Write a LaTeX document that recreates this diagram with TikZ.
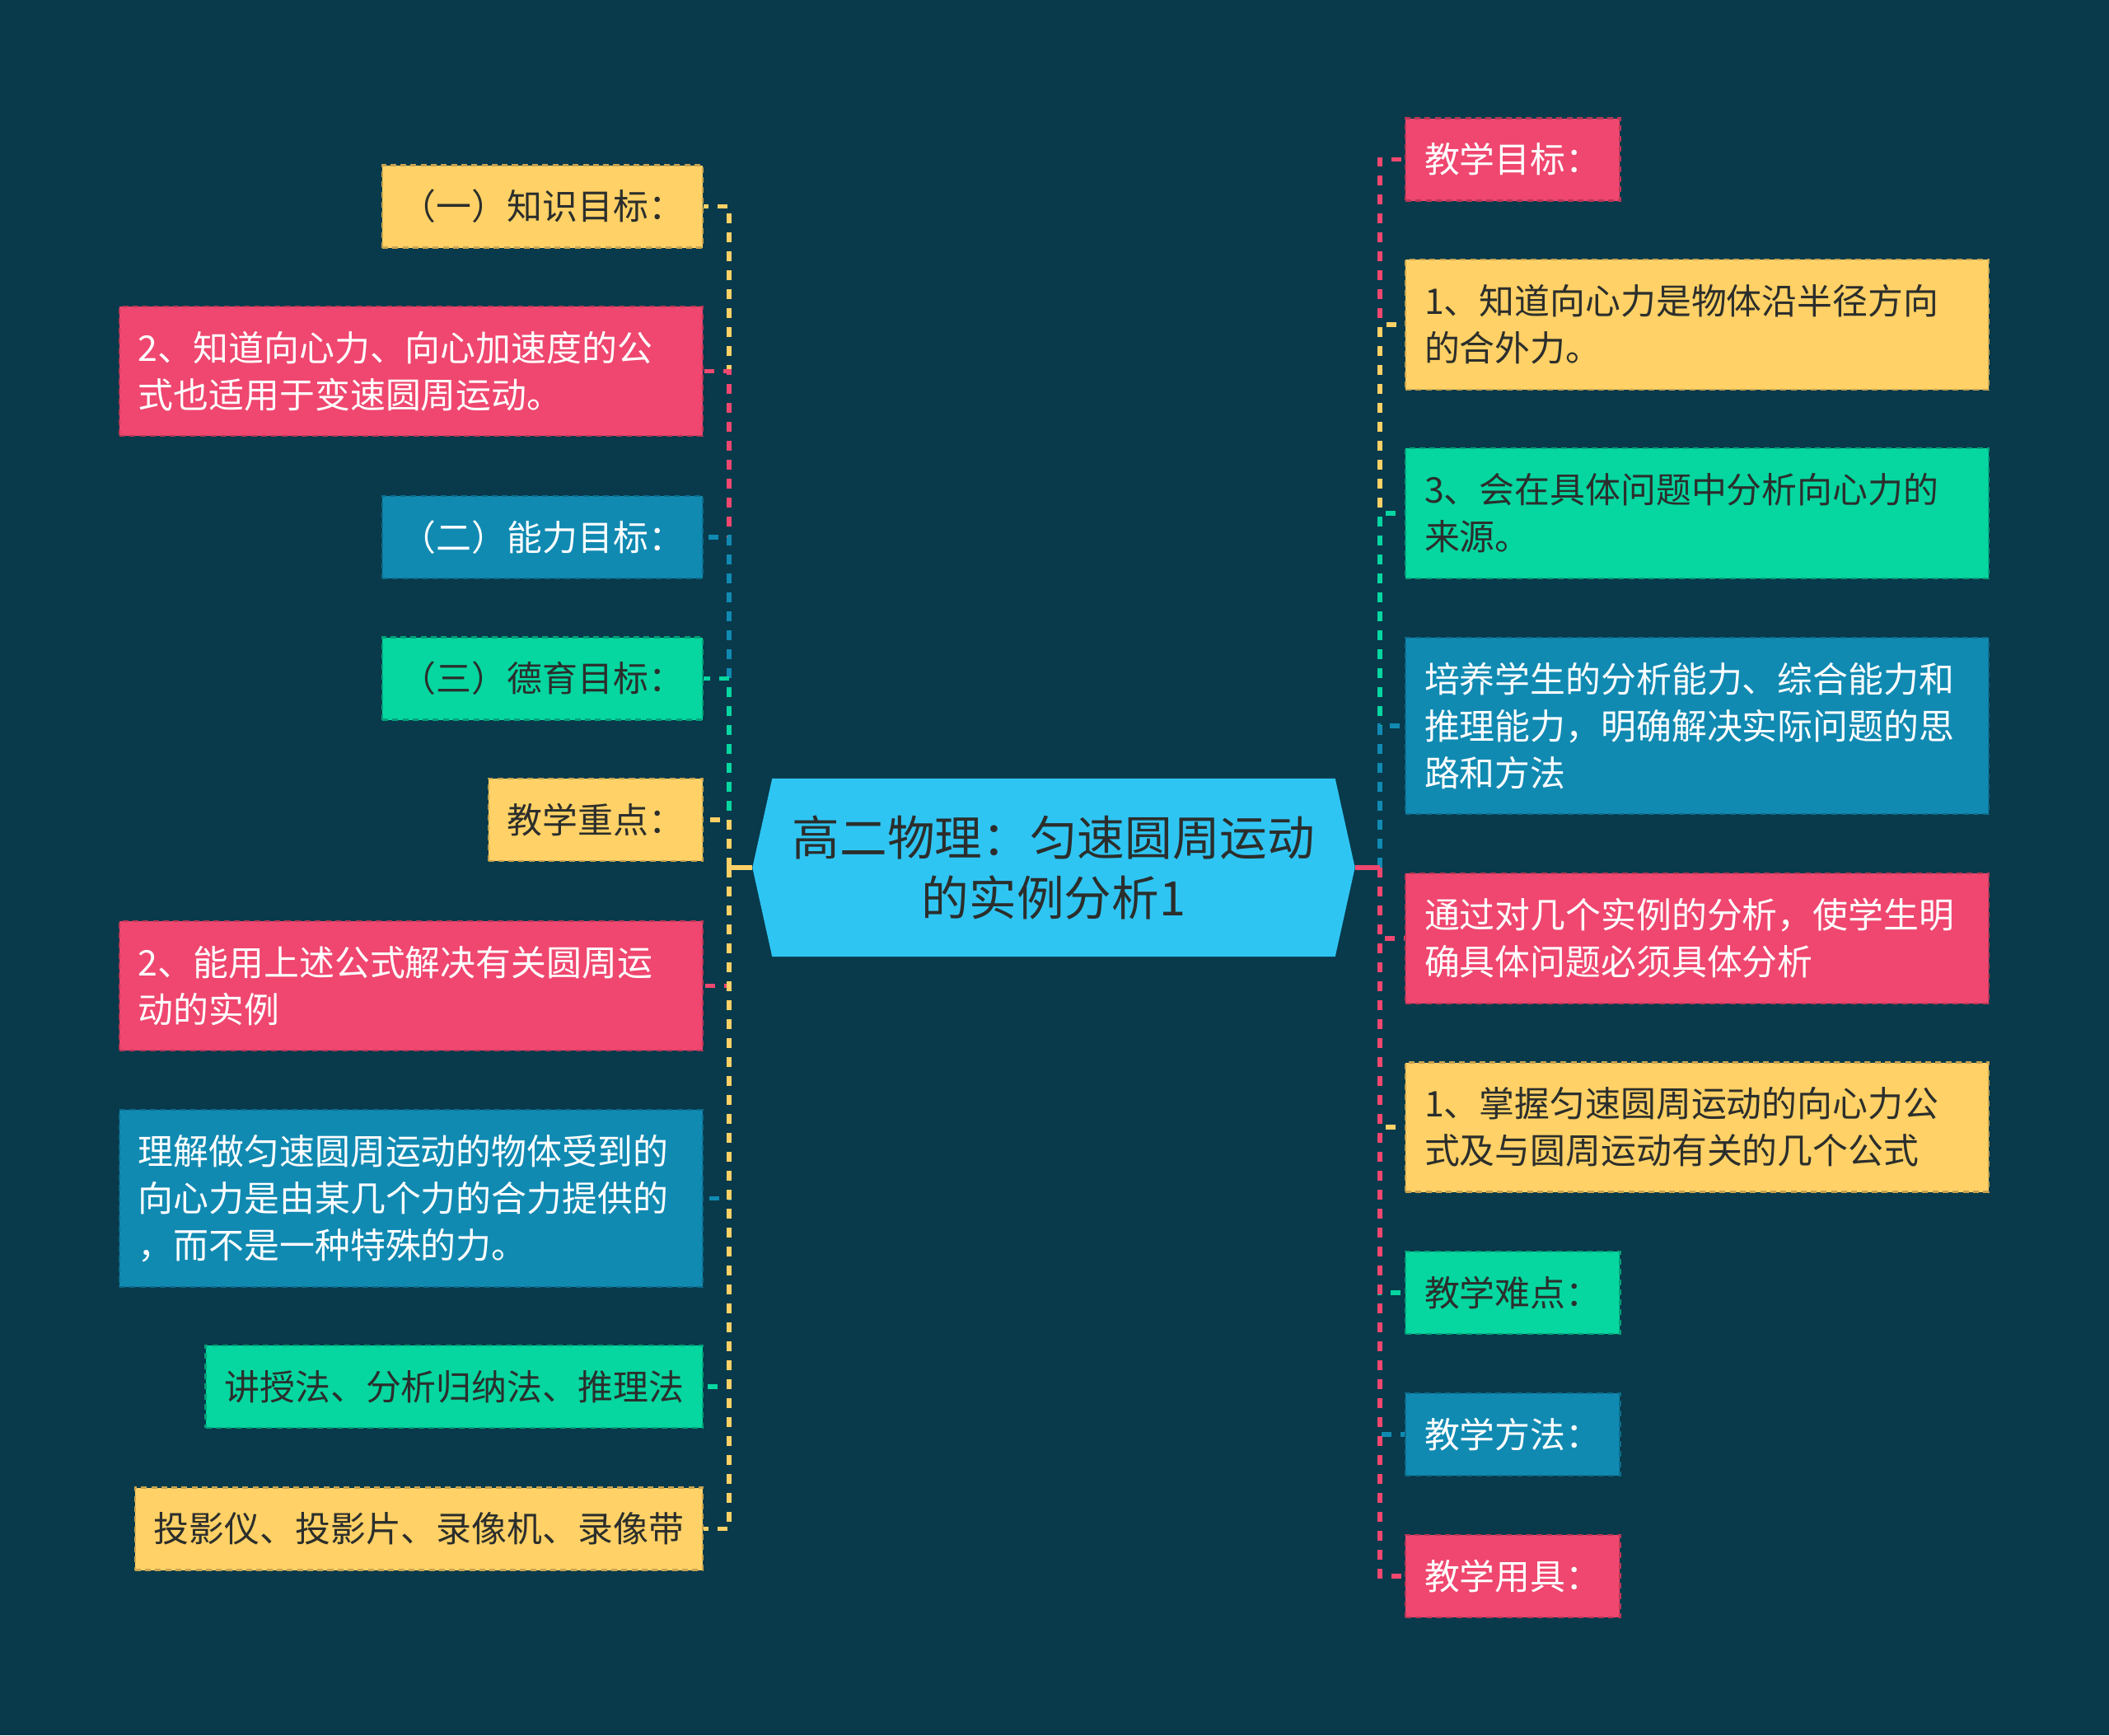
\documentclass[tikz,border=0pt]{standalone}
\usepackage{fontspec}
\setmainfont{Noto Sans CJK SC}
\usetikzlibrary{positioning,calc,backgrounds}
\definecolor{deepteal}{HTML}{083A4B}
\definecolor{sun}{HTML}{FFD166}
\definecolor{rose}{HTML}{EF476F}
\definecolor{mint}{HTML}{06D6A0}
\definecolor{ocean}{HTML}{118AB2}
\definecolor{sky}{HTML}{2FC5F3}
\definecolor{ink}{HTML}{2B2E2C}
\tikzset{
  leaf/.style={rectangle,minimum height=1cm,inner xsep=0.23cm,inner ysep=0.2cm,line width=0.6pt,dash pattern=on 2pt off 1.5pt,font=\fontsize{12.2pt}{16.2pt}\selectfont},
  sunbox/.style={leaf,fill=sun,draw=sun!78!black,text=ink},
  rosebox/.style={leaf,fill=rose,draw=rose!78!black,text=white},
  mintbox/.style={leaf,fill=mint,draw=mint!75!black,text=ink},
  oceanbox/.style={leaf,fill=ocean,draw=ocean!78!black,text=white},
  wide/.style={text width=6.62cm,align=left},
  rootbox/.style={minimum width=7.3cm,minimum height=2.15cm,inner sep=0pt,align=center,text=ink,font=\fontsize{16.4pt}{20.8pt}\selectfont},
  branch/.style={draw=#1,line width=1.5pt,dash pattern=on 0.12cm off 0.11cm},
  stem/.style={draw=#1,line width=1.5pt}}
\begin{document}
\begin{tikzpicture}
\node[rootbox] (root) at (12.79,-10.53) {高二物理：匀速圆周运动\\的实例分析1};
\begin{scope}[on background layer]
  \fill[deepteal] (0,0) rectangle (25.6,-21.06);
  \fill[sky] (root.west) -- ([xshift=0.24cm]root.north west) -- ([xshift=-0.24cm]root.north east)
    -- (root.east) -- ([xshift=-0.24cm]root.south east) -- ([xshift=0.24cm]root.south west) -- cycle;
\end{scope}
\coordinate (jl) at (8.85,-10.53);
\coordinate (jr) at (16.75,-10.53);

% left side
\node[sunbox,anchor=east,minimum width=3.81cm] (l1) at (8.54,-2.505) {（一）知识目标：};
\node[rosebox,wide,anchor=east,minimum height=1.57cm] (l2) at (8.54,-4.505) {2、知道向心力、向心加速度的公\\式也适用于变速圆周运动。};
\node[oceanbox,anchor=east,minimum width=3.81cm] (l3) at (8.54,-6.52) {（二）能力目标：};
\node[mintbox,anchor=east,minimum width=3.81cm] (l4) at (8.54,-8.235) {（三）德育目标：};
\node[sunbox,anchor=east,minimum width=2.53cm] (l5) at (8.54,-9.95) {教学重点：};
\node[rosebox,wide,anchor=east,minimum height=1.57cm] (l6) at (8.54,-11.967) {2、能用上述公式解决有关圆周运\\动的实例};
\node[oceanbox,wide,anchor=east,minimum height=2.15cm] (l7) at (8.54,-14.547) {理解做匀速圆周运动的物体受到的\\向心力是由某几个力的合力提供的\\，而不是一种特殊的力。};
\node[mintbox,anchor=east,minimum width=5.98cm] (l8) at (8.54,-16.83) {讲授法、分析归纳法、推理法};
\node[sunbox,anchor=east,minimum width=6.84cm] (l9) at (8.54,-18.555) {投影仪、投影片、录像机、录像带};

% right side
\node[rosebox,anchor=west,minimum width=2.53cm] (r1) at (17.05,-1.935) {教学目标：};
\node[sunbox,wide,anchor=west,minimum height=1.58cm] (r2) at (17.05,-3.94) {1、知道向心力是物体沿半径方向\\的合外力。};
\node[mintbox,wide,anchor=west,minimum height=1.58cm] (r3) at (17.05,-6.23) {3、会在具体问题中分析向心力的\\来源。};
\node[oceanbox,wide,anchor=west,minimum height=2.14cm] (r4) at (17.05,-8.81) {培养学生的分析能力、综合能力和\\推理能力，明确解决实际问题的思\\路和方法};
\node[rosebox,wide,anchor=west,minimum height=1.58cm] (r5) at (17.05,-11.39) {通过对几个实例的分析，使学生明\\确具体问题必须具体分析};
\node[sunbox,wide,anchor=west,minimum height=1.57cm] (r6) at (17.05,-13.68) {1、掌握匀速圆周运动的向心力公\\式及与圆周运动有关的几个公式};
\node[mintbox,anchor=west,minimum width=2.53cm] (r7) at (17.05,-15.69) {教学难点：};
\node[oceanbox,anchor=west,minimum width=2.53cm] (r8) at (17.05,-17.41) {教学方法：};
\node[rosebox,anchor=west,minimum width=2.53cm] (r9) at (17.05,-19.13) {教学用具：};

% connectors, top to bottom
\foreach \n/\c in {l1/sun,l2/rose,l3/ocean,l4/mint,l5/sun,l6/rose,l7/ocean,l8/mint,l9/sun}{
  \draw[stem=\c] (root.west) -- (jl);
  \draw[branch=\c] (jl) |- (\n.east);
}
\foreach \n/\c in {r1/rose,r2/sun,r3/mint,r4/ocean,r5/rose,r6/sun,r7/mint,r8/ocean,r9/rose}{
  \draw[stem=\c] (root.east) -- (jr);
  \draw[branch=\c] (jr) |- (\n.west);
}
\end{tikzpicture}
\end{document}
